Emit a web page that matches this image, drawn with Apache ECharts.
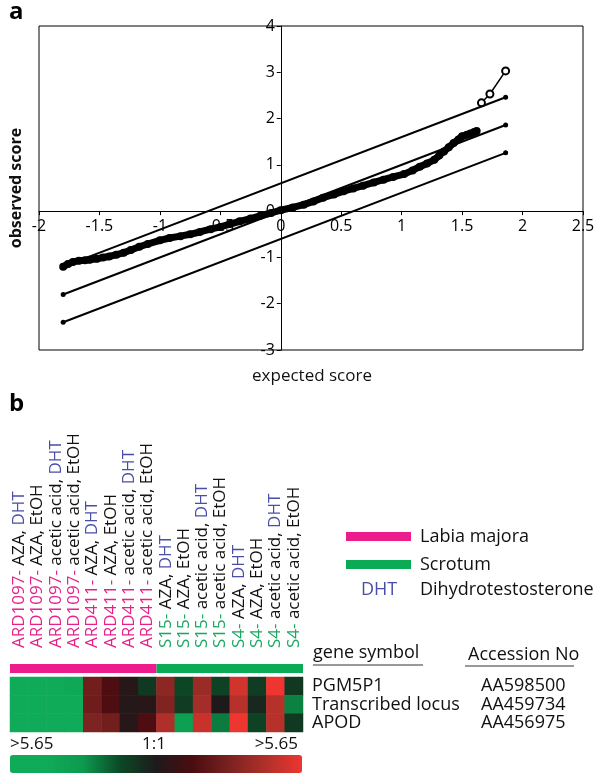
<!DOCTYPE html>
<html><head><meta charset="utf-8">
<script src="https://cdn.jsdelivr.net/npm/echarts@6/dist/echarts.min.js"></script>
<style>html,body{margin:0;padding:0;background:#fff}#c{width:604px;height:781px}</style>
</head><body><div id="c"></div>
<script>
// ---------- Panel a data ----------
const xTickLabels = ['-2','-1.5','-1','-0.5','0','0.5','1','1.5','2','2.5'];
const yTickLabels = ['-3','-2','-1','0','1','2','3','4'];
const observed = [[-1.80,-1.20],[-1.76,-1.14],[-1.72,-1.10],[-1.67,-1.07],[-1.62,-1.06],[-1.58,-1.05],[-1.52,-1.03],[-1.47,-1.00],[-1.42,-0.98],[-1.36,-0.94],[-1.30,-0.90],[-1.24,-0.84],[-1.17,-0.77],[-1.10,-0.71],[-1.00,-0.63],[-0.92,-0.58],[-0.83,-0.54],[-0.75,-0.50],[-0.67,-0.45],[-0.58,-0.39],[-0.50,-0.34],[-0.42,-0.28],[-0.34,-0.22],[-0.25,-0.16],[-0.17,-0.10],[-0.08,-0.04],[0.00,0.02],[0.10,0.08],[0.19,0.14],[0.27,0.21],[0.35,0.29],[0.44,0.36],[0.52,0.43],[0.60,0.49],[0.68,0.55],[0.77,0.62],[0.85,0.68],[0.93,0.74],[1.02,0.80],[1.09,0.88],[1.15,0.96],[1.21,1.03],[1.27,1.11],[1.31,1.20],[1.35,1.29],[1.39,1.38],[1.43,1.47],[1.47,1.55],[1.50,1.62],[1.54,1.65],[1.57,1.68],[1.60,1.71],[1.62,1.73]];
const outliers = [[1.66,2.34],[1.73,2.53],[1.86,3.03]];
const refUpper = [[-1.80,-1.20],[1.86,2.46]];
const refMiddle = [[-1.80,-1.80],[1.86,1.86]];
const refLower = [[-1.80,-2.40],[1.86,1.26]];

// ---------- Panel b data ----------
const samples = ['ARD1097- AZA, DHT','ARD1097- AZA, EtOH','ARD1097- acetic acid, DHT','ARD1097- acetic acid, EtOH',
  'ARD411- AZA, DHT','ARD411- AZA, EtOH','ARD411- acetic acid, DHT','ARD411- acetic acid, EtOH',
  'S15- AZA, DHT','S15- AZA, EtOH','S15- acetic acid, DHT','S15- acetic acid, EtOH',
  'S4- AZA, DHT','S4- AZA, EtOH','S4- acetic acid, DHT','S4- acetic acid, EtOH'];
const groupNames = ['Labia majora','Scrotum'];
const groupSizes = [8, 8];
const genes = ['PGM5P1','Transcribed locus','APOD'];
const accessions = ['AA598500','AA459734','AA456975'];
// log ratio per gene (rows) per sample (columns)
const ratioPGM5P1 = [-5.65,-5.65,-5.65,-4.0, 2.6,1.5,0.3,-0.9, 3.3,-1.3,3.7,-1.2, 5.0,-1.0,5.65,-0.9];
const ratioLocus  = [-5.65,-5.65,-5.65,-5.65, 2.5,1.5,0.2,0.3, 3.0,-1.0,3.9,0.0, 4.4,-0.4,4.4,-2.4];
const ratioAPOD   = [-5.65,-5.65,-5.65,-5.65, 2.9,2.6,0.3,1.5, 4.2,-3.3,4.8,-2.3, 5.65,-1.2,4.4,-0.9];
const scaleLabels = ['>5.65','1:1','>5.65'];
const scaleMin = -5.65, scaleMax = 5.65;

const FONT = 'Open Sans';
const rows = [ratioPGM5P1, ratioLocus, ratioAPOD];
const heat = [];
rows.forEach((r, ri) => r.forEach((v, ci) => heat.push([ci, ri, v])));

const G = {left:39, top:26, width:544, height:324};
const xMin = -2, xMax = 2.5, yMin = -3, yMax = 4;
// place the axes through the origin, the way the reference does
const xAxisOffset = -G.height * (0 - yMin) / (yMax - yMin);
const yAxisOffset = -G.width * (0 - xMin) / (xMax - xMin);

const chart = echarts.init(document.getElementById('c'), null, {renderer:'canvas'});
const dotStyle = {color:'#000'};
const option = {
  animation: false,
  backgroundColor: '#fff',
  textStyle: {fontFamily: FONT},
  grid: [
    {left:G.left, top:G.top, width:G.width, height:G.height, show:true, borderColor:'#000', borderWidth:1, backgroundColor:'transparent'},
    {left:10, top:664, width:293, height:9},
    {left:10, top:677, width:293, height:55}
  ],
  xAxis: [
    {gridIndex:0, type:'value', min:xMin, max:xMax, interval:0.5, position:'bottom', offset:xAxisOffset,
     axisLine:{onZero:false, lineStyle:{color:'#000', width:1}},
     axisTick:{show:true, length:4, lineStyle:{color:'#000'}},
     splitLine:{show:false},
     axisLabel:{color:'#000', fontSize:16, fontFamily:FONT, margin:7, showMinLabel:true, showMaxLabel:true,
       formatter:(v)=>{const i=Math.round((v-xMin)/0.5); return xTickLabels[i]||'';}}},
    {gridIndex:1, type:'value', min:0, max:16, show:false},
    {gridIndex:2, type:'category', data:samples, position:'top',
     axisLine:{show:false}, axisTick:{show:false}, splitLine:{show:false},
     axisLabel:{rotate:-90, margin:29, interval:0, fontSize:17, fontFamily:FONT, color:'#000',
       formatter:(v)=>{
         const i = v.indexOf('- ');
         const pre = v.slice(0, i+1);
         const rest = v.slice(i+1);
         const g = pre.indexOf('ARD') === 0 ? 'p' : 's';
         if (rest.slice(-3) === 'DHT') return '{'+g+'|'+pre+'}{k|'+rest.slice(0,-3)+'}{d|DHT}';
         return '{'+g+'|'+pre+'}{k|'+rest+'}';
       },
       rich:{
         p:{color:'#e6218a', fontSize:17, fontFamily:FONT},
         s:{color:'#1aa862', fontSize:17, fontFamily:FONT},
         k:{color:'#111', fontSize:17, fontFamily:FONT},
         d:{color:'#4a4ea6', fontSize:17, fontFamily:FONT}
       }}}
  ],
  yAxis: [
    {gridIndex:0, type:'value', min:yMin, max:yMax, interval:1, position:'left', offset:yAxisOffset,
     axisLine:{onZero:false, lineStyle:{color:'#000', width:1}},
     axisTick:{show:true, length:4, lineStyle:{color:'#000'}},
     splitLine:{show:false},
     axisLabel:{color:'#000', fontSize:16, fontFamily:FONT, margin:6, showMinLabel:true, showMaxLabel:true,
       formatter:(v)=>{const i=Math.round(v-yMin); return yTickLabels[i]||'';}}},
    {gridIndex:1, type:'category', data:['group'], show:false},
    {gridIndex:2, type:'category', data:genes, inverse:true, position:'right',
     axisLine:{show:false}, axisTick:{show:false},
     axisLabel:{margin:9, interval:0, fontSize:18, fontFamily:FONT, color:'#111'}},
    {gridIndex:2, type:'category', data:accessions, inverse:true, position:'right', offset:178,
     axisLine:{show:false}, axisTick:{show:false},
     axisLabel:{margin:0, interval:0, fontSize:18, fontFamily:FONT, color:'#111'}}
  ],
  legend: {data:groupNames, orient:'vertical', left:346, top:526, icon:'rect', itemWidth:65, itemHeight:9,
    itemGap:7, padding:0, textStyle:{fontSize:18, fontFamily:FONT, color:'#111', padding:[0,0,0,4], lineHeight:21}},
  visualMap: {type:'continuous', seriesIndex:6, min:scaleMin, max:scaleMax, orient:'horizontal',
    left:10, top:755, itemWidth:18, itemHeight:292, calculable:false, padding:0, text:null, hoverLink:false,
    inRange:{color:['#0fab58','#0fab58','#0c9a4e','#0a4a26','#1e1a1c','#4a0c10','#7a2220','#b0302a','#ee3530']}},
  series: [
    {type:'line', xAxisIndex:0, yAxisIndex:0, data:refUpper, symbol:'circle', symbolSize:5, itemStyle:dotStyle, lineStyle:{color:'#000', width:2}},
    {type:'line', xAxisIndex:0, yAxisIndex:0, data:refMiddle, symbol:'circle', symbolSize:5, itemStyle:dotStyle, lineStyle:{color:'#000', width:2}},
    {type:'line', xAxisIndex:0, yAxisIndex:0, data:refLower, symbol:'circle', symbolSize:5, itemStyle:dotStyle, lineStyle:{color:'#000', width:2}},
    {type:'line', xAxisIndex:0, yAxisIndex:0, data:observed, symbol:'circle', symbolSize:8, itemStyle:dotStyle, lineStyle:{color:'#000', width:7}},
    {type:'line', xAxisIndex:0, yAxisIndex:0, data:outliers, symbol:'emptyCircle', symbolSize:7, itemStyle:{color:'#000', borderWidth:1.5}, lineStyle:{color:'#000', width:1.5}},
    {type:'bar', name:groupNames[0], xAxisIndex:1, yAxisIndex:1, stack:'g', data:[groupSizes[0]], barWidth:'100%', itemStyle:{color:'#ec1c8c'}},
    {type:'heatmap', xAxisIndex:2, yAxisIndex:2, data:heat},
    {type:'bar', name:groupNames[1], xAxisIndex:1, yAxisIndex:1, stack:'g', data:[groupSizes[1]], barWidth:'100%', itemStyle:{color:'#0bab55'}}
  ],
  graphic: [
    {type:'text', left:9, top:0, style:{text:'a', font:'bold 24px "'+FONT+'"', fill:'#000'}},
    {type:'text', left:9, top:392, style:{text:'b', font:'bold 24px "'+FONT+'"', fill:'#000'}},
    {type:'text', x:312, y:376, style:{text:'expected score', font:'17px "'+FONT+'"', fill:'#111', align:'center', verticalAlign:'middle'}},
    {type:'text', x:16, y:188, rotation:Math.PI/2, style:{text:'observed score', font:'bold 16px "'+FONT+'"', fill:'#111', align:'center', verticalAlign:'middle'}},
    {type:'text', x:361, y:590, style:{text:'DHT', font:'18px "'+FONT+'"', fill:'#4a4ea6', verticalAlign:'middle'}},
    {type:'text', x:420, y:590, style:{text:'Dihydrotestosterone', font:'18px "'+FONT+'"', fill:'#111', verticalAlign:'middle'}},
    {type:'text', x:313, y:653, style:{text:'gene symbol', font:'18px "'+FONT+'"', fill:'#111', verticalAlign:'middle'}},
    {type:'line', shape:{x1:313, y1:665, x2:423, y2:665}, style:{stroke:'#333', lineWidth:1}},
    {type:'text', x:468, y:655, style:{text:'Accession No', font:'18px "'+FONT+'"', fill:'#111', verticalAlign:'middle'}},
    {type:'line', shape:{x1:465, y1:666, x2:574, y2:666}, style:{stroke:'#333', lineWidth:1}},
    {type:'text', x:10, y:744, style:{text:scaleLabels[0], font:'17px "'+FONT+'"', fill:'#111', verticalAlign:'middle'}},
    {type:'text', x:154, y:744, style:{text:scaleLabels[1], font:'17px "'+FONT+'"', fill:'#111', align:'center', verticalAlign:'middle'}},
    {type:'text', x:298, y:744, style:{text:scaleLabels[2], font:'17px "'+FONT+'"', fill:'#111', align:'right', verticalAlign:'middle'}}
  ]
};
chart.setOption(option);
</script></body></html>
